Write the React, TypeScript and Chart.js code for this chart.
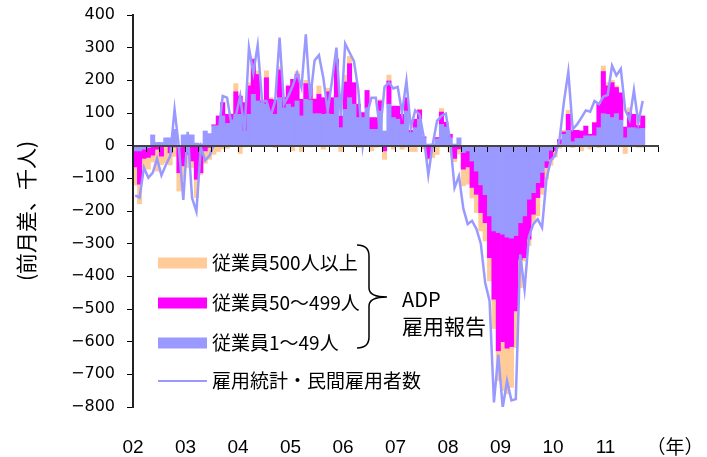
import React, { useEffect, useRef } from 'react';
import { Chart, registerables } from 'chart.js';

Chart.register(...registerables);

// Year tick labels (one per January)
const YEARS = ['02', '03', '04', '05', '06', '07', '08', '09', '10', '11'];
const MONTHS = ['1', '2', '3', '4', '5', '6', '7', '8', '9', '10', '11', '12'];

// ADP employment report, monthly change by establishment size (thousands)
const ADP_SMALL = [
  -16, -16, -11, -6, 33, 10, 10, 24, 24, 50, -5, 33, // 2002
  33, 33, 8, 6, 45, 37, 61, 61, 91, 68, 68, 96, // 2003
  96, 45, 96, 157, 137, 132, 127, 96, 96, 147, 116, 127, // 2004
  118, 137, 91, 142, 139, 98, 98, 96, 98, 96, 147, 55, // 2005
  111, 147, 127, 86, 86, 116, 50, 50, 106, 45, 127, 86, // 2006
  81, 65, 106, 40, 55, 81, 24, 5, 5, 21, 65, 57, // 2007
  24, 5, 24, -21, -16, -47, -78, -120, -150, -215, -261, -266, // 2008
  -271, -280, -283, -275, -236, -215, -164, -144, -113, -82, -47, -14, // 2009
  -5, 5, 35, 47, 12, 22, 22, 30, 30, 30, 55, 98, // 2010
  96, 86, 98, 78, 24, 55, 55, 52, 53, // 2011
];

const ADP_MID = [
  -49, -102, -28, -30, -29, -11, -32, -3, -22, -4, -78, -62,
  -27, -47, -103, -83, -16, -5, 3, 30, 41, 28, 28, 69,
  56, 87, 87, 107, 81, 5, 81, 46, 44, 85, 31, 56,
  85, 81, 51, 48, 49, 44, 59, 51, 67, 51, 117, 36,
  84, 104, 66, 41, 15, 53, 36, 36, 31, -16, 71, 35,
  40, 31, 41, 7, 26, 28, 3, -39, -5, 4, 38, 15,
  11, -39, -10, -51, -49, -81, -71, -85, -86, -128, -209, -362,
  -329, -340, -332, -231, -112, -128, -122, -66, -46, -46, -20, -28,
  -10, 14, 7, 49, 35, 25, 23, 30, 5, 40, 72, 129,
  87, 107, 80, 84, 33, 46, 41, 10, 38,
];

const ADP_LARGE = [
  -56, -60, -30, -36, -21, -67, -26, -50, -37, -29, -56, -40,
  -40, -20, -56, -5, -38, -37, -27, -18, -10, -8, 2, 25,
  -24, -4, 10, 3, 11, 2, 21, 5, -6, 9, 3, -3,
  -16, 9, -18, 10, -4, 2, 26, -11, 11, -3, 3, -18,
  21, 23, -4, -6, 2, -3, -16, -5, 4, -26, 18, -11,
  -3, -11, -5, -18, -18, 3, -10, -5, -32, -27, 11, -4,
  -21, -10, -16, -51, -53, -32, -56, -56, -56, -71, -90, -92,
  -150, -140, -125, -112, -87, -10, -20, -26, -56, -21, -36, -18,
  -20, -8, 5, 12, -6, -3, -16, -4, -10, 2, -6, 17,
  10, 7, 5, -4, -24, 15, -3, -5, -5,
];

// BLS employment situation, private payrolls, monthly change (thousands)
const BLS_PRIVATE = [
  -152, -159, -67, -98, -83, -40, -91, -59, -32, 111, -6, -166,
  42, -160, -202, -5, -45, -30, 2, 30, 152, 147, 65, 91,
  152, 45, 300, 223, 307, 137, 137, 91, 137, 331, 127, 152,
  183, 223, 178, 341, 142, 261, 277, 208, 106, 200, 300, 91,
  312, 285, 259, 170, 0, 96, 147, 147, 45, 180, 193, 175,
  180, 101, 198, 55, 108, 95, 24, -90, 4, 76, 91, 98,
  14, -129, -93, -192, -240, -230, -255, -300, -420, -475, -786, -640,
  -802, -720, -780, -776, -333, -440, -278, -240, -225, -251, -103, -45,
  -30, 20, 135, 226, 50, 65, 86, 108, 104, 137, 127, 150,
  155, 245, 215, 235, 110, 80, 170, 70, 137,
];

const LABEL_LARGE = '従業員500人以上';
const LABEL_MID = '従業員50〜499人';
const LABEL_SMALL = '従業員1〜49人';
const LABEL_LINE = '雇用統計・民間雇用者数';
const GROUP_LABEL = ['ADP', '雇用報告'];
const Y_TITLE = '(前月差、千人)';
const X_UNIT = '（年）';

const Y_MIN = -800;
const Y_MAX = 400;
const Y_STEP = 100;

const COLOR_LARGE = '#FFCC99';
const COLOR_MID = '#FF00FF';
const COLOR_SMALL = '#9999FF';
const COLOR_LINE = '#9999FF';

const CJK = '"Noto Sans CJK JP", "Noto Sans CJK SC", sans-serif';

const monthLabels = YEARS.flatMap((y) => MONTHS.map((m) => `${y}/${m}`));

const annotationPlugin = {
  id: 'legendAndNotes',
  afterDraw(chart: any) {
    const { ctx } = chart;
    const byLabel = (l: string) => chart.data.datasets.find((d: any) => d.label === l);
    const rows = [LABEL_LARGE, LABEL_MID, LABEL_SMALL, LABEL_LINE];
    const rowY = [263, 303, 343, 381];
    ctx.save();
    ctx.textBaseline = 'middle';
    ctx.textAlign = 'left';
    ctx.fillStyle = '#000';
    ctx.font = `19px ${CJK}`;
    rows.forEach((label, i) => {
      const ds = byLabel(label);
      const y = rowY[i];
      if (ds.type === 'line') {
        ctx.strokeStyle = ds.borderColor;
        ctx.lineWidth = 2;
        ctx.beginPath();
        ctx.moveTo(158, y);
        ctx.lineTo(207, y);
        ctx.stroke();
      } else {
        ctx.fillStyle = ds.backgroundColor;
        ctx.fillRect(158, y - 5.5, 49, 11);
      }
      ctx.fillStyle = '#000';
      ctx.fillText(label, 212, y);
    });

    // brace grouping the three ADP series
    const bx = 357, top = 245, bottom = 348, mid = 369, tipX = 387, tipY = 297;
    ctx.strokeStyle = '#000';
    ctx.lineWidth = 1.5;
    ctx.beginPath();
    ctx.moveTo(bx, top);
    ctx.quadraticCurveTo(mid, top, mid, top + 11);
    ctx.lineTo(mid, tipY - 9);
    ctx.quadraticCurveTo(mid, tipY, tipX, tipY);
    ctx.quadraticCurveTo(mid, tipY, mid, tipY + 9);
    ctx.lineTo(mid, bottom - 11);
    ctx.quadraticCurveTo(mid, bottom, bx, bottom);
    ctx.stroke();

    ctx.fillStyle = '#000';
    ctx.font = `20px ${CJK}`;
    ctx.fillText(GROUP_LABEL[0], 402, 299);
    ctx.font = `21px ${CJK}`;
    ctx.fillText(GROUP_LABEL[1], 402, 326);

    ctx.textAlign = 'center';
    ctx.font = `19px ${CJK}`;
    ctx.fillText(X_UNIT, 675, 447);
    ctx.restore();
  },
};

export default function App() {
  const canvasRef = useRef<HTMLCanvasElement | null>(null);

  useEffect(() => {
    const canvas = canvasRef.current;
    if (!canvas) return;
    const chart = new Chart(canvas, {
      type: 'bar',
      data: {
        labels: monthLabels,
        datasets: [
          {
            type: 'line',
            label: LABEL_LINE,
            data: BLS_PRIVATE,
            borderColor: COLOR_LINE,
            backgroundColor: COLOR_LINE,
            borderWidth: 2.5,
            pointRadius: 0,
            tension: 0,
            fill: false,
            stack: 'bls',
            order: 0,
          } as any,
          {
            type: 'bar',
            label: LABEL_SMALL,
            data: ADP_SMALL,
            backgroundColor: COLOR_SMALL,
            stack: 'adp',
            order: 1,
          },
          {
            type: 'bar',
            label: LABEL_MID,
            data: ADP_MID,
            backgroundColor: COLOR_MID,
            stack: 'adp',
            order: 1,
          },
          {
            type: 'bar',
            label: LABEL_LARGE,
            data: ADP_LARGE,
            backgroundColor: COLOR_LARGE,
            stack: 'adp',
            order: 1,
          },
        ],
      },
      options: {
        responsive: false,
        animation: false,
        devicePixelRatio: 1,
        events: [],
        datasets: {
          bar: { barPercentage: 1, categoryPercentage: 1, borderWidth: 0 },
        },
        layout: { padding: { left: 0, right: 49, top: 15, bottom: 0 } },
        plugins: {
          legend: { display: false },
          tooltip: { enabled: false },
        },
        scales: {
          x: {
            type: 'category',
            stacked: true,
            offset: true,
            position: { y: 0 } as any,
            grid: {
              drawOnChartArea: false,
              drawTicks: true,
              tickLength: 5,
              offset: true,
              lineWidth: 1,
              z: 1,
              color: (c: any) =>
                c.type !== 'tick' || c.index % 3 === 0 ? '#000' : 'rgba(0,0,0,0)',
            },
            border: { display: true, color: '#444', width: 2, z: 1 },
            ticks: { display: false },
            afterFit: (s: any) => {
              s.height = 0;
            },
          },
          xYear: {
            type: 'linear',
            position: 'bottom',
            offset: false,
            min: 0,
            max: YEARS.length * MONTHS.length,
            grid: { display: false, offset: false },
            border: { display: false },
            ticks: {
              stepSize: MONTHS.length,
              autoSkip: false,
              maxRotation: 0,
              padding: 21,
              color: '#000',
              font: { family: '"Liberation Sans", Arial, sans-serif', size: 19 },
              callback: (v: any) => YEARS[Math.round(v / MONTHS.length)] ?? '',
            },
            afterFit: (s: any) => {
              s.height = 50;
            },
          },
          y: {
            position: 'left',
            stacked: true,
            min: Y_MIN,
            max: Y_MAX,
            ticks: {
              stepSize: Y_STEP,
              padding: 12,
              color: '#000',
              font: { family: '"DejaVu Sans", sans-serif', size: 16 },
              callback: (v: any) => (v < 0 ? '\u2212' + Math.abs(v) : String(v)),
            },
            grid: {
              drawOnChartArea: false,
              drawTicks: true,
              tickLength: 6,
              color: '#000',
              z: 1,
            },
            border: { display: true, color: '#222', width: 2, z: 1 },
            title: {
              display: true,
              text: Y_TITLE,
              color: '#000',
              font: { family: CJK, size: 21 },
              padding: { top: 13, bottom: 0 },
            },
            afterFit: (s: any) => {
              s.width = 133;
              s.paddingTop = 0;
              s.paddingBottom = 0;
            },
          },
        },
      },
      plugins: [annotationPlugin],
    });
    return () => chart.destroy();
  }, []);

  return (
    <div style={{ position: 'absolute', left: 0, top: 0, width: 707, height: 457, background: '#fff' }}>
      <canvas ref={canvasRef} width={707} height={457} style={{ display: 'block' }} />
    </div>
  );
}
